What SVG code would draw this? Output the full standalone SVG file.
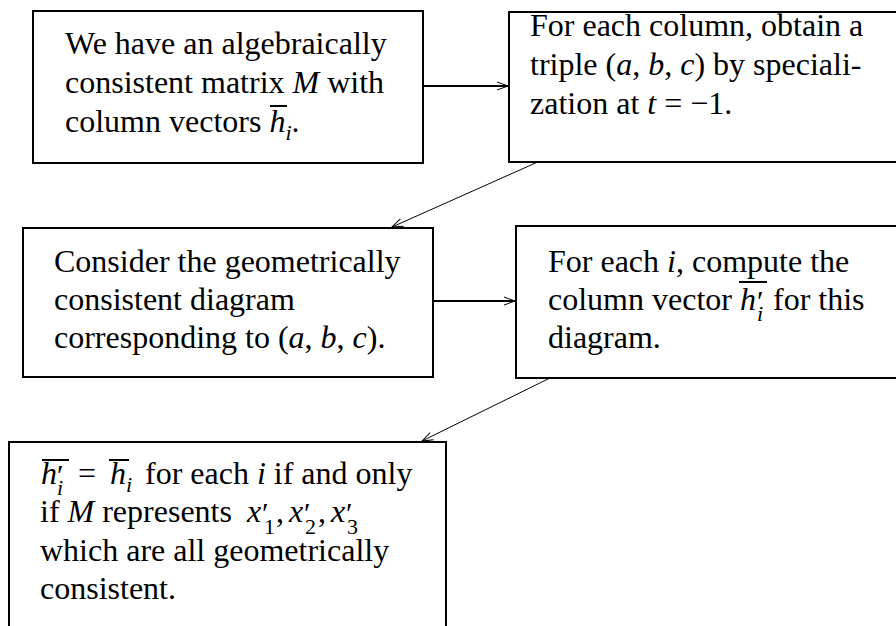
<svg xmlns="http://www.w3.org/2000/svg" width="896" height="626" viewBox="0 0 896 626">
<style>
.t { font-family: "Liberation Serif", "Times New Roman", serif; font-size: 32px; fill: #000; }
.m { font-style: italic; }
.s { font-size: 22px; font-style: italic; }
.n { font-style: normal; }
.p { font-size: 30px; }
.box { fill: #fff; stroke: #000; stroke-width: 2; }
.ol { stroke: #000; stroke-width: 2; }
.c { stroke: #000; fill: none; }
</style>
<defs>
<marker id="ah" markerUnits="userSpaceOnUse" markerWidth="14" markerHeight="10" refX="12" refY="5" orient="auto" overflow="visible">
<path d="M1,1 L12,5 L1,9" fill="none" stroke="#000" stroke-width="1"/>
</marker>
</defs>
<rect width="896" height="626" fill="#fff"/>
<g id="connectors">
<line class="c" x1="423" y1="86" x2="508" y2="86" stroke-width="2" marker-end="url(#ah)"/>
<line class="c" x1="540" y1="161" x2="392" y2="227" stroke-width="1" marker-end="url(#ah)"/>
<line class="c" x1="433" y1="301" x2="515" y2="301" stroke-width="2" marker-end="url(#ah)"/>
<line class="c" x1="550" y1="378" x2="422" y2="441" stroke-width="1" marker-end="url(#ah)"/>
</g>
<g id="n1">
<rect class="box" x="33" y="11" width="390" height="152"/>
<text class="t" x="65" y="54">We have an algebraically</text>
<text class="t" x="65" y="93">consistent matrix <tspan class="m">M</tspan> with</text>
<text class="t" x="65" y="132">column vectors <tspan class="m">h</tspan><tspan class="s" dy="8">i</tspan><tspan dy="-8">.</tspan></text>
<line class="ol" x1="270" y1="106" x2="287" y2="106"/>
</g>
<g id="n2">
<rect class="box" x="509" y="12" width="400" height="150"/>
<text class="t" x="530" y="36">For each column, obtain a</text>
<text class="t" x="530" y="75">triple (<tspan class="m">a</tspan>, <tspan class="m">b</tspan>, <tspan class="m">c</tspan>) by speciali-</text>
<text class="t" x="530" y="114">zation at <tspan class="m">t</tspan> = −1.</text>
</g>
<g id="n3">
<rect class="box" x="23" y="228" width="410" height="149"/>
<text class="t" x="54" y="272">Consider the geometrically</text>
<text class="t" x="54" y="310">consistent diagram</text>
<text class="t" x="54" y="348">corresponding to (<tspan class="m">a</tspan>, <tspan class="m">b</tspan>, <tspan class="m">c</tspan>).</text>
</g>
<g id="n4">
<rect class="box" x="516" y="226" width="400" height="152"/>
<text class="t" x="548" y="272">For each <tspan class="m">i</tspan>, compute the</text>
<text class="t" x="548" y="310">column vector <tspan class="m" x="740">h</tspan><tspan class="p" x="757" y="311">′</tspan><tspan class="s" x="757" y="321">i</tspan><tspan x="773" y="310">for this</tspan></text>
<line class="ol" x1="739" y1="282" x2="767" y2="282"/>
<text class="t" x="548" y="348">diagram.</text>
</g>
<g id="n5">
<rect class="box" x="9" y="442" width="437" height="200"/>
<text class="t" x="41" y="484"><tspan class="m">h</tspan><tspan class="p" x="57" y="485">′</tspan><tspan class="s" x="57" y="495">i</tspan><tspan x="78" y="484">=</tspan><tspan class="m" x="110">h</tspan><tspan class="s" x="126" y="492">i</tspan><tspan x="145" y="484">for each <tspan class="m">i</tspan> if and only</tspan></text>
<line class="ol" x1="42" y1="460" x2="69" y2="460"/>
<line class="ol" x1="109" y1="460" x2="129" y2="460"/>
<text class="t" x="40" y="522">if <tspan class="m">M</tspan> represents <tspan class="m" x="247">x</tspan><tspan class="p" x="262" y="523">′</tspan><tspan class="s n" x="264" y="534">1</tspan><tspan x="276" y="522">,</tspan><tspan class="m" x="289">x</tspan><tspan class="p" x="304" y="523">′</tspan><tspan class="s n" x="305" y="534">2</tspan><tspan x="318" y="522">,</tspan><tspan class="m" x="331">x</tspan><tspan class="p" x="346" y="523">′</tspan><tspan class="s n" x="347" y="534">3</tspan></text>
<text class="t" x="40" y="561">which are all geometrically</text>
<text class="t" x="40" y="599">consistent.</text>
</g>
</svg>
